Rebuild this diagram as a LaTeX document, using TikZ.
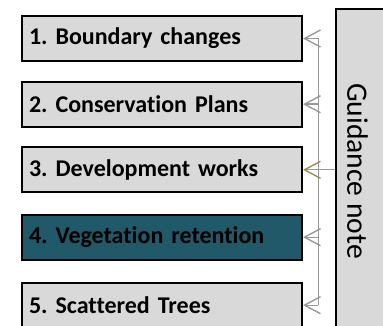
\documentclass[tikz,border=0pt]{standalone}
\usepackage{fontspec}
\newfontfamily\calfont[Ligatures=NoCommon]{Carlito}
\usetikzlibrary{arrows.meta}
\frenchspacing
\definecolor{boxgray}{HTML}{D9D9D9}
\definecolor{tealbox}{HTML}{215968}
\definecolor{conngray}{HTML}{999999}
\definecolor{olivetip}{HTML}{9B8E4F}
\tikzset{
  stepbox/.style={draw=black, line width=2pt, fill=boxgray, minimum width=280pt, minimum height=45pt,
    text width=266pt, align=left, inner xsep=6pt, inner ysep=0pt,
    font=\calfont\fontsize{24}{28}\selectfont\bfseries},
  guidebox/.style={draw=black, line width=1.6pt, fill=boxgray, minimum width=70pt, minimum height=340pt, inner sep=0pt},
  guidetext/.style={font=\calfont\fontsize{29.6}{34}\selectfont, rotate=-90, inner sep=0pt},
  conn/.style={draw=conngray, line width=1.4pt},
  barb/.style={-{Straight Barb[length=16pt,width=17pt]}},
  olivebarb/.style={-{Straight Barb[length=16pt,width=17pt,color=olivetip]}}
}
\begin{document}
\begin{tikzpicture}[x=1pt,y=-1pt]
\useasboundingbox (0,0) rectangle (383,326);
\clip (0,0) rectangle (383,326);
\node[stepbox] (b1) at (162,38.5) {1. Boundary changes};
\node[stepbox] (b2) at (162,104.2) {2. Conservation Plans};
\node[stepbox] (b3) at (162,169.8) {3. Development works};
\node[stepbox, fill=tealbox] (b4) at (162,237.2) {4. Vegetation retention};
\node[stepbox] (b5) at (162,305.2) {5. Scattered Trees};
\node[guidebox, anchor=north west] (guide) at (335,8.3) {};
\node[guidetext] (gt) at (357.5,171) {Guidance note};
\coordinate (t) at (318.3,0);
\draw[conn] (b1.east -| t) -- (b5.east -| t);
\draw[conn,barb] (b1.east -| t) -- (b1.east);
\draw[conn,barb] (b2.east -| t) -- (b2.east);
\draw[conn,barb] (b4.east -| t) -- (b4.east);
\draw[conn,barb] (b5.east -| t) -- (b5.east);
\draw[conn,olivebarb] (guide.west |- b3.east) -- (b3.east);
\end{tikzpicture}
\end{document}
